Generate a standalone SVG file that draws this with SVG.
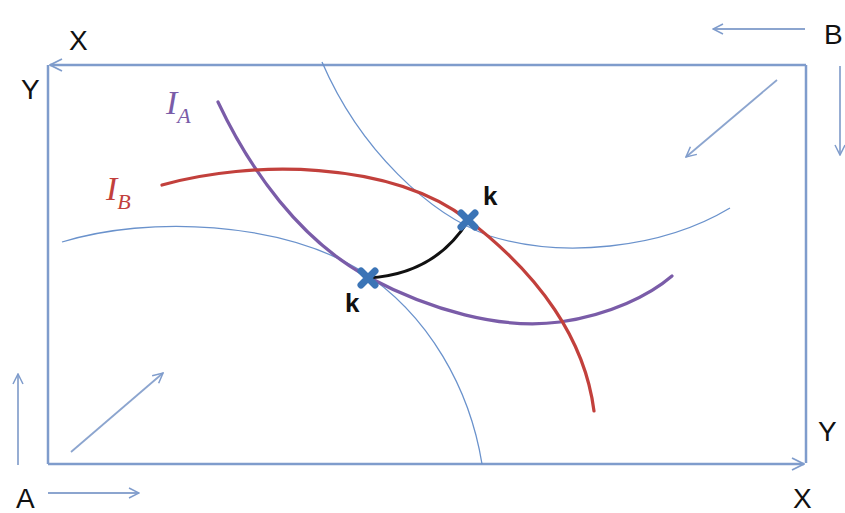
<svg xmlns="http://www.w3.org/2000/svg" width="845" height="513" viewBox="0 0 845 513">
<defs>
<marker id="ah" viewBox="0 0 12 12" refX="11" refY="6" markerWidth="12" markerHeight="12" markerUnits="userSpaceOnUse" orient="auto">
<path d="M1,1 L11,6 L1,11" fill="none" stroke="#7f9ccc" stroke-width="1.5"/>
</marker>
<marker id="ah2" viewBox="0 0 14 14" refX="13" refY="7" markerWidth="14" markerHeight="14" markerUnits="userSpaceOnUse" orient="auto">
<path d="M1,1 L13,7 L1,13" fill="none" stroke="#7f9ccc" stroke-width="1.8"/>
</marker>
</defs>
<style>
.lbl{font-family:"Liberation Sans",Arial,sans-serif;font-size:28px;fill:#111}
.axis{fill:none;stroke:#7f9ccc;stroke-width:2.5}
.arr{fill:none;stroke:#8ca5cf;stroke-width:1.8;marker-end:url(#ah)}
.ic{fill:none;stroke:#6a92cc;stroke-width:1.3}
.ia{fill:none;stroke:#7a5ca8;stroke-width:3.2;stroke-linecap:round}
.ib{fill:none;stroke:#c2403c;stroke-width:3.2;stroke-linecap:round}
.ilbl{font-family:"Liberation Serif","Times New Roman",serif;font-style:italic;font-size:34px}
.k{font-family:"Liberation Sans",Arial,sans-serif;font-weight:bold;font-size:26px;fill:#111}
.mk{stroke:#3b74b6;stroke-width:7;stroke-linecap:round}
</style>
<rect width="845" height="513" fill="#fff"/>
<g id="box">
<path class="axis" d="M806,65 L50,65" marker-end="url(#ah2)"/>
<path class="axis" d="M48,464 L48,65"/>
<path class="axis" d="M806,65 L806,463"/>
<path class="axis" d="M48,464 L804,464" marker-end="url(#ah2)"/>
</g>
<g id="labels">
<text class="lbl" x="69" y="50">X</text>
<text class="lbl" x="21" y="99">Y</text>
<text class="lbl" x="824" y="44">B</text>
<text class="lbl" x="16" y="508">A</text>
<text class="lbl" x="793" y="508">X</text>
<text class="lbl" x="818" y="441">Y</text>
</g>
<g id="connectors">
<path class="arr" d="M805,29 L713,29"/>
<path class="arr" d="M840,66 L840,155"/>
<path class="arr" d="M777,80 L686,157"/>
<path class="arr" d="M18,465 L18,374"/>
<path class="arr" d="M48,493 L139,493"/>
<path class="arr" d="M71,452 L163,373"/>
</g>
<g id="indiff">
<path class="ic" d="M322,62 C360,150 430,215 490,236 C560,258 660,250 730,208"/>
<path class="ic" d="M62,242 C150,215 280,222 360,270 C430,315 470,390 482,464"/>
</g>
<g id="IA">
<path class="ia" d="M218,102 C250,170 300,240 368,277 C430,310 500,330 560,322 C610,315 650,295 672,276"/>
<text class="ilbl" x="166" y="114" fill="#7a5ca8">I<tspan font-size="22" dy="9">A</tspan></text>
</g>
<g id="IB">
<path class="ib" d="M162,185 C250,160 390,160 468,220 C540,275 585,340 594,411"/>
<text class="ilbl" x="106" y="200" fill="#c2403c">I<tspan font-size="22" dy="9">B</tspan></text>
</g>
<g id="contract">
<path d="M368,278 C420,275 450,250 468,221" fill="none" stroke="#111" stroke-width="3"/>
</g>
<g id="k1">
<path class="mk" d="M361,271 L375,285 M375,271 L361,285"/>
<text class="k" x="345" y="312">k</text>
</g>
<g id="k2">
<path class="mk" d="M461,213 L475,227 M475,213 L461,227"/>
<text class="k" x="483" y="205">k</text>
</g>
</svg>
